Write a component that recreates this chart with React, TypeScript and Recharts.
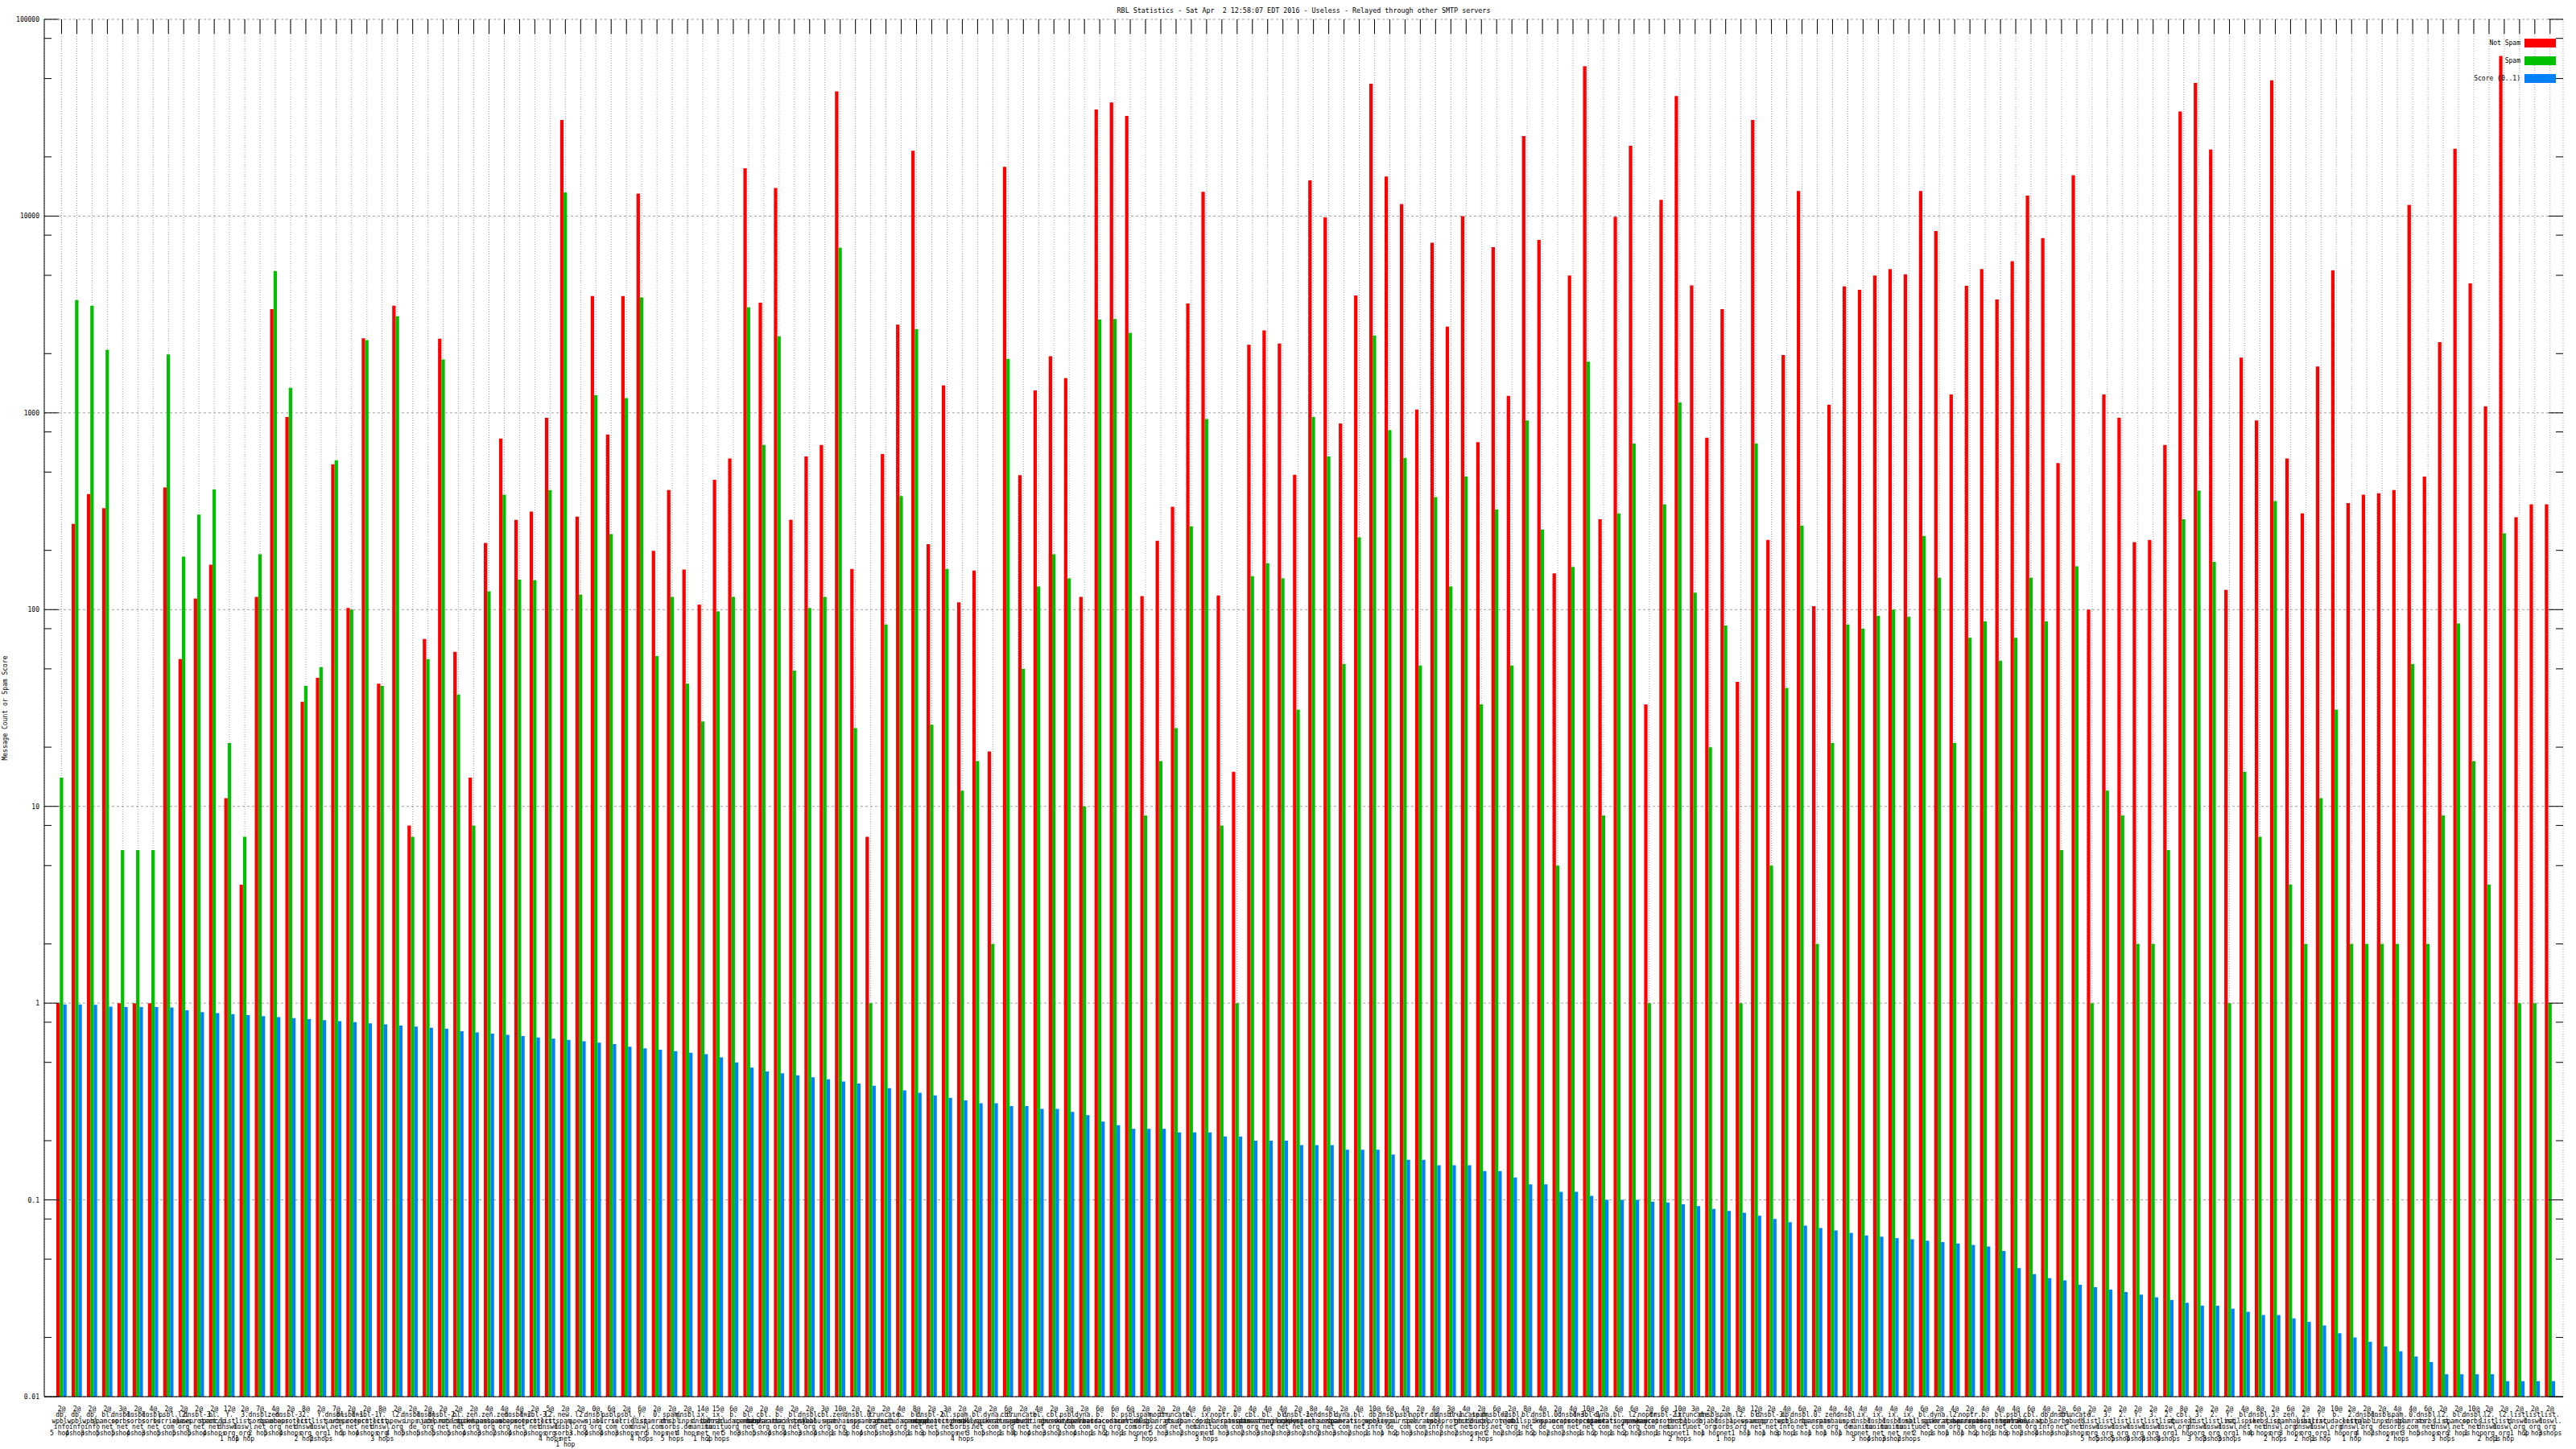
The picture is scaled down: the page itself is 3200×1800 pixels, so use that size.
import { Bar, BarChart, CartesianGrid, Legend, XAxis, YAxis } from "recharts";

const TITLE =
  "RBL Statistics - Sat Apr  2 12:58:07 EDT 2016 - Useless - Relayed through other SMTP servers";
const Y_TITLE = "Message Count or Spam Score";
const MONO = '"DejaVu Sans Mono", "Liberation Mono", monospace';

// plot box inside the 3200x1800 svg
const PLOT_LEFT = 55;
const PLOT_RIGHT = 3184;
const PLOT_TOP = 24;

const labels: string[] = [
  "2@db.wpbl.info 5 hops", "2@db.wpbl.info 4 hops", "2@db.wpbl.info 3 hops", "2@bl.spamcop.net 5 hops",
  "3@dnsbl.sorbs.net 5 hops", "2@dnsbl.sorbs.net 4 hops", "4@dnsbl.sorbs.net 3 hops", "2@psbl.surriel.com 5 hops",
  "2@l2.apews.org 5 hops", "2@dnsbl-3.uceprotect.net 5 hops", "2@bl.spamcop.net 4 hops", "12@Y.list.dnswl.org 1 hop",
  "2@3.list.dnswl.org 1 hop", "7@dnsbl.sorbs.net 2 hops", "4@zen.spamhaus.org 5 hops", "2@dnsbl-3.uceprotect.net 4 hops",
  "8@2.list.dnswl.org 2 hops", "2@Y.list.dnswl.org 2 hops", "7@dnsbl.sorbs.net 1 hop", "2@dnsbl-1.uceprotect.net 5 hops",
  "2@dnsbl-1.uceprotect.net 4 hops", "8@Y.list.dnswl.org 3 hops", "2@l2.apews.org 4 hops", "2@dnsbl.inps.de 5 hops",
  "2@dnsbl.njabl.org 5 hops", "2@dnsbl-2.uceprotect.net 5 hops", "2@bl.mailspike.net 5 hops", "2@zen.spamhaus.org 4 hops",
  "4@zen.spamhaus.org 3 hops", "4@zen.spamhaus.org 2 hops", "4@dnsbl-2.uceprotect.net 4 hops", "2@dnsbl-3.uceprotect.net 3 hops",
  "5@l2.list.dnswl.org 4 hops", "2@new.spam.dnsbl.sorbs.net 1 hop", "2@l2.apews.org 3 hops", "0@dnsbl.njabl.org 4 hops",
  "6@psbl.surriel.com 4 hops", "2@psbl.surriel.com 3 hops", "6@Y.list.dnswl.org 4 hops", "2@0.spamrats.com 5 hops",
  "2@spam.dnsbl.sorbs.net 5 hops", "2@dnsbl.inps.de 4 hops", "14@ix.dnsbl.manitu.net 1 hop", "15@ix.dnsbl.manitu.net 2 hops",
  "6@b.barracudacentral.org 5 hops", "2@bl.spamcop.net 3 hops", "2@cbl.abuseat.org 5 hops", "4@b.barracudacentral.org 4 hops",
  "2@bl.mailspike.net 4 hops", "2@dnsbl.njabl.org 3 hops", "3@cbl.abuseat.org 4 hops", "10@zen.spamhaus.org 1 hop",
  "2@dnsbl.inps.de 3 hops", "2@0.spamrats.com 4 hops", "2@truncate.gbudb.net 5 hops", "4@b.barracudacentral.org 3 hops",
  "8@bl.spamcop.net 1 hop", "2@dnsbl-2.uceprotect.net 3 hops", "3@bl.spameatingmonkey.net 5 hops", "2@spam.dnsbl.sorbs.net 4 hops",
  "2@bl.mailspike.net 3 hops", "2@dyna.spamrats.com 5 hops", "6@cbl.abuseat.org 1 hop", "2@truncate.gbudb.net 4 hops",
  "4@bl.spameatingmonkey.net 4 hops", "2@cbl.abuseat.org 3 hops", "3@psbl.surriel.com 2 hops", "2@dyna.spamrats.com 4 hops",
  "6@b.barracudacentral.org 1 hop", "6@b.barracudacentral.org 2 hops", "6@psbl.surriel.com 1 hop", "2@spam.dnsbl.sorbs.net 3 hops",
  "2@noptr.spamrats.com 5 hops", "2@truncate.gbudb.net 3 hops", "4@bl.spamcop.net 2 hops", "6@ix.dnsbl.manitu.net 3 hops",
  "2@noptr.spamrats.com 4 hops", "2@0.spamrats.com 3 hops", "4@cbl.abuseat.org 2 hops", "4@bl.spameatingmonkey.net 3 hops",
  "4@bl.mailspike.net 2 hops", "2@dnsbl-1.uceprotect.net 3 hops", "8@zen.spamhaus.org 2 hops", "4@dnsbl.sorbs.net 2 hops",
  "2@dyna.spamrats.com 3 hops", "4@bl.spameatingmonkey.net 2 hops", "10@db.wpbl.info 1 hop", "6@dnsbl.inps.de 1 hop",
  "4@psbl.surriel.com 2 hops", "2@noptr.spamrats.com 3 hops", "4@db.wpbl.info 2 hops", "3@dnsbl-1.uceprotect.net 2 hops",
  "4@truncate.gbudb.net 2 hops", "2@spam.dnsbl.sorbs.net 2 hops", "6@dnsbl-2.uceprotect.net 2 hops", "2@dnsbl.njabl.org 2 hops",
  "8@bl.mailspike.net 1 hop", "4@dnsbl.inps.de 2 hops", "2@0.spamrats.com 2 hops", "4@dnsbl-3.uceprotect.net 2 hops",
  "10@dnsbl-1.uceprotect.net 1 hop", "2@dyna.spamrats.com 2 hops", "6@bl.spameatingmonkey.net 1 hop", "6@l2.apews.org 2 hops",
  "2@noptr.spamrats.com 2 hops", "6@dnsbl-2.uceprotect.net 1 hop", "10@ix.dnsbl.manitu.net 2 hops", "3@truncate.gbudb.net 1 hop",
  "2@dnsbl.njabl.org 1 hop", "2@spam.dnsbl.sorbs.net 1 hop", "8@l2.apews.org 1 hop", "12@bl.spamcop.net 1 hop",
  "2@dnsbl-3.uceprotect.net 1 hop", "4@db.wpbl.info 3 hops", "6@dnsbl.sorbs.net 1 hop", "2@0.spamrats.com 1 hop",
  "4@zen.spamhaus.org 1 hop", "4@dnsbl.inps.de 1 hop", "4@ix.dnsbl.manitu.net 5 hops", "4@ix.dnsbl.manitu.net 4 hops",
  "4@ix.dnsbl.manitu.net 3 hops", "4@ix.dnsbl.manitu.net 2 hops", "6@bl.mailspike.net 2 hops", "2@dyna.spamrats.com 1 hop",
  "4@l2.apews.org 1 hop", "2@noptr.spamrats.com 1 hop", "4@b.barracudacentral.org 2 hops", "4@bl.spameatingmonkey.net 1 hop",
  "4@psbl.surriel.com 3 hops", "6@cbl.abuseat.org 2 hops", "4@db.wpbl.info 4 hops", "2@dnsbl.sorbs.net 3 hops",
  "6@truncate.gbudb.net 2 hops", "2@Y.list.dnswl.org 5 hops", "2@3.list.dnswl.org 5 hops", "2@2.list.dnswl.org 5 hops",
  "2@Y.list.dnswl.org 4 hops", "2@3.list.dnswl.org 4 hops", "2@2.list.dnswl.org 4 hops", "8@cbl.abuseat.org 1 hop",
  "2@3.list.dnswl.org 3 hops", "2@2.list.dnswl.org 3 hops", "2@Y.list.dnswl.org 3 hops", "4@bl.mailspike.net 1 hop",
  "8@dnsbl.sorbs.net 4 hops", "2@3.list.dnswl.org 2 hops", "6@zen.spamhaus.org 3 hops", "2@2.list.dnswl.org 2 hops",
  "2@Y.list.dnswl.org 1 hop", "10@b.barracudacentral.org 1 hop", "2@2.list.dnswl.org 1 hop", "2@dnsbl.njabl.org 4 hops",
  "2@dnsbl.inps.de 2 hops", "4@spam.dnsbl.sorbs.net 2 hops", "4@0.spamrats.com 3 hops", "6@dnsbl.sorbs.net 5 hops",
  "2@l2.list.dnswl.org 3 hops", "2@bl.spamcop.net 2 hops", "10@dnsbl.sorbs.net 1 hop", "2@l2.list.dnswl.org 2 hops",
  "2@l2.list.dnswl.org 1 hop", "2@list.dnswl.org 1 hop", "2@list.dnswl.org 2 hops", "2@list.dnswl.org 3 hops",
];

const notSpam: number[] = [
  1, 273, 387, 328, 1, 1, 1, 418, 56, 114, 169, 11, 4, 116, 3370, 952, 34, 45, 548, 102,
  2390, 42, 3500, 8, 71, 2380, 61, 14, 218, 741, 286, 315, 944, 30800, 297, 3920, 776, 3920, 13000, 199,
  405, 160, 106, 457, 586, 17500, 3630, 13900, 286, 600, 687, 43000, 161, 7, 618, 2810, 21500, 215, 1380, 109,
  158, 19, 17800, 482, 1300, 1940, 1500, 116, 34800, 37800, 32300, 117, 224, 333, 3600, 13300, 118, 15, 2220, 2620,
  2250, 485, 15200, 9850, 883, 3950, 47100, 15900, 11500, 1040, 7330, 2740, 10000, 709, 6950, 1220, 25500, 7560, 153, 4990,
  57800, 288, 9920, 22800, 33, 12100, 40800, 4450, 748, 3370, 43, 30800, 226, 1970, 13400, 104, 1100, 4390, 4220, 4990,
  5380, 5060, 13400, 8400, 1240, 4420, 5380, 3770, 5890, 12700, 7730, 556, 16100, 100, 1240, 944, 220, 226, 687, 34000,
  47500, 21800, 126, 1910, 916, 49000, 586, 308, 1720, 5300, 348, 384, 390, 405, 11400, 475, 2290, 22000, 4550, 1080,
  65200, 295, 343, 343,
];

const spam: number[] = [
  14, 3740, 3500, 2090, 6, 6, 6, 1980, 186, 304, 408, 21, 7, 191, 5260, 1340, 41, 51, 574, 100,
  2340, 41, 3100, 7, 56, 1870, 37, 8, 124, 384, 142, 141, 405, 13200, 119, 1230, 242, 1190, 3860, 58,
  116, 42, 27, 98, 116, 3440, 687, 2450, 49, 102, 116, 6900, 25, 1, 84, 378, 2660, 26, 161, 12,
  17, 2, 1880, 50, 131, 191, 144, 10, 2980, 3000, 2550, 9, 17, 25, 265, 930, 8, 1, 148, 172,
  144, 31, 952, 600, 53, 233, 2470, 818, 591, 52, 373, 131, 475, 33, 323, 52, 916, 255, 5, 165,
  1820, 9, 308, 698, 1, 343, 1130, 122, 20, 83, 1, 698, 5, 40, 267, 2, 21, 84, 80, 93,
  100, 92, 237, 145, 21, 72, 87, 55, 72, 145, 87, 6, 166, 1, 12, 9, 2, 2, 6, 288,
  402, 175, 1, 15, 7, 356, 4, 2, 11, 31, 2, 2, 2, 2, 53, 2, 9, 85, 17, 4,
  244, 1, 1, 1,
];

const score: number[] = [
  0.985, 0.985, 0.98, 0.96, 0.955, 0.955, 0.955, 0.95, 0.92, 0.9, 0.89, 0.88, 0.87, 0.86, 0.85, 0.84, 0.83, 0.82, 0.81, 0.8,
  0.79, 0.78, 0.77, 0.76, 0.75, 0.74, 0.72, 0.71, 0.7, 0.69, 0.68, 0.67, 0.66, 0.65, 0.64, 0.63, 0.62, 0.6, 0.59, 0.58,
  0.57, 0.56, 0.55, 0.53, 0.5, 0.47, 0.45, 0.44, 0.43, 0.42, 0.41, 0.4, 0.39, 0.38, 0.37, 0.36, 0.35, 0.34, 0.33, 0.32,
  0.31, 0.31, 0.3, 0.3, 0.29, 0.29, 0.28, 0.27, 0.25, 0.24, 0.23, 0.23, 0.23, 0.22, 0.22, 0.22, 0.21, 0.21, 0.2, 0.2,
  0.2, 0.19, 0.19, 0.19, 0.18, 0.18, 0.18, 0.17, 0.16, 0.16, 0.15, 0.15, 0.15, 0.14, 0.14, 0.13, 0.12, 0.12, 0.11, 0.11,
  0.105, 0.1, 0.1, 0.1, 0.098, 0.097, 0.095, 0.093, 0.09, 0.088, 0.086, 0.083, 0.08, 0.077, 0.074, 0.072, 0.07, 0.068, 0.066, 0.065,
  0.064, 0.063, 0.062, 0.061, 0.06, 0.059, 0.058, 0.055, 0.045, 0.042, 0.04, 0.039, 0.037, 0.036, 0.035, 0.034, 0.033, 0.032, 0.031, 0.03,
  0.029, 0.029, 0.028, 0.027, 0.026, 0.026, 0.025, 0.024, 0.023, 0.021, 0.02, 0.019, 0.018, 0.017, 0.016, 0.015, 0.013, 0.013, 0.013, 0.013,
  0.012, 0.012, 0.012, 0.012,
];

const DECADES = [0.01, 0.1, 1, 10, 100, 1000, 10000, 100000];
// gnuplot's log minor ticks land on 2, 5 and 8 of each decade
const MINORS = [0.02, 0.05, 0.08, 0.2, 0.5, 0.8, 2, 5, 8, 20, 50, 80, 200, 500, 800, 2000, 5000, 8000, 20000, 50000, 80000];
const LEGEND_ORDER = ["Not Spam", "Spam", "Score (0..1)"];

const data = labels.map((label, i) => ({
  label,
  notSpam: notSpam[i],
  spam: spam[i],
  score: score[i],
}));

function splitLabel(label: string): string[] {
  const m = label.match(/^(\d+@)(\S+) (.+)$/);
  if (!m) return [label];
  return [m[1], ...m[2].split(/(?<=\.)/), m[3]];
}

function RblTick({ x, y, payload }: any) {
  const lines = splitLabel(String(payload.value));
  return (
    <g>
      <line x1={x} x2={x} y1={PLOT_TOP} y2={PLOT_TOP + 18} stroke="#000" />
      <text x={x} y={y + 10} textAnchor="middle" fontFamily={MONO} fontSize={8} fill="#000">
        {lines.map((line, i) => (
          <tspan key={i} x={x} dy={i === 0 ? 0 : 7.4}>
            {line}
          </tspan>
        ))}
      </text>
    </g>
  );
}

function LogTick({ y, payload }: any) {
  const v = payload.value as number;
  const major = DECADES.includes(v);
  const len = major ? 18 : 9;
  return (
    <g>
      <line x1={PLOT_LEFT} x2={PLOT_LEFT + len} y1={y} y2={y} stroke="#000" />
      <line x1={PLOT_RIGHT} x2={PLOT_RIGHT - len} y1={y} y2={y} stroke="#000" />
      {major && (
        <text x={49} y={y} dy={3} textAnchor="end" fontFamily={MONO} fontSize={8} fill="#000">
          {String(v)}
        </text>
      )}
    </g>
  );
}

function YTitle(props: any) {
  const vb = props.viewBox ?? { x: 0, y: PLOT_TOP, width: 55, height: 1711 };
  const cx = vb.x + 6;
  const cy = vb.y + vb.height / 2;
  return (
    <text
      x={cx}
      y={cy}
      transform={`rotate(-90 ${cx} ${cy})`}
      textAnchor="middle"
      dominantBaseline="central"
      fontFamily={MONO}
      fontSize={8}
      fill="#000"
    >
      {Y_TITLE}
    </text>
  );
}

function LegendRows({ payload }: any) {
  const items = [...(payload ?? [])].sort(
    (a: any, b: any) => LEGEND_ORDER.indexOf(a.value) - LEGEND_ORDER.indexOf(b.value)
  );
  return (
    <div style={{ fontFamily: MONO, fontSize: 8, color: "#000" }}>
      {items.map((p: any) => (
        <div
          key={p.value}
          style={{ display: "flex", justifyContent: "flex-end", alignItems: "center", height: 22 }}
        >
          <span style={{ marginRight: 5, whiteSpace: "pre" }}>{p.value}</span>
          <span style={{ display: "inline-block", width: 39, height: 11, background: p.color }} />
        </div>
      ))}
    </div>
  );
}

export default function App() {
  return (
    <div style={{ position: "absolute", left: 0, top: 0, width: 3200, height: 1800, background: "#fff" }}>
      <div
        style={{
          position: "absolute",
          left: 0,
          top: 7,
          width: 3239,
          lineHeight: "12px",
          textAlign: "center",
          fontFamily: MONO,
          fontSize: 8.4,
          whiteSpace: "pre",
          color: "#000",
          zIndex: 2,
        }}
      >
        {TITLE}
      </div>
      <BarChart
        width={3200}
        height={1800}
        data={data}
        margin={{ top: PLOT_TOP, right: 16, bottom: 0, left: 0 }}
        barGap={0}
        barSize={4.25}
      >
        <CartesianGrid vertical={false} horizontalValues={DECADES} stroke="#a0a0a0" strokeDasharray="3 3" />
        <CartesianGrid horizontal={false} stroke="#a0a0a0" strokeDasharray="1 2" />
        <XAxis
          dataKey="label"
          interval={0}
          height={65}
          tickLine={false}
          axisLine={{ stroke: "#000" }}
          padding={{ left: 12, right: 6.7 }}
          tick={<RblTick />}
        />
        <XAxis xAxisId="top" dataKey="label" orientation="top" height={0} tick={false} tickLine={false} axisLine={{ stroke: "#000" }} />
        <YAxis
          type="number"
          scale="log"
          domain={[0.01, 100000]}
          allowDataOverflow
          ticks={[...DECADES, ...MINORS]}
          interval={0}
          width={55}
          tickLine={false}
          axisLine={{ stroke: "#000" }}
          tick={<LogTick />}
          label={{ content: (p: any) => <YTitle {...p} /> }}
        />
        <YAxis
          yAxisId="right"
          orientation="right"
          type="number"
          scale="log"
          domain={[0.01, 100000]}
          allowDataOverflow
          width={0}
          tick={false}
          tickLine={false}
          axisLine={{ stroke: "#000" }}
        />
        <Legend
          layout="vertical"
          align="center"
          verticalAlign="middle"
          wrapperStyle={{ left: 2950, top: 42.5, width: 225 }}
          content={<LegendRows />}
        />
        <Bar dataKey="notSpam" name="Not Spam" fill="#ff0000" isAnimationActive={false} />
        <Bar dataKey="spam" name="Spam" fill="#00c000" isAnimationActive={false} />
        <Bar dataKey="score" name="Score (0..1)" fill="#0080ff" isAnimationActive={false} />
      </BarChart>
    </div>
  );
}
